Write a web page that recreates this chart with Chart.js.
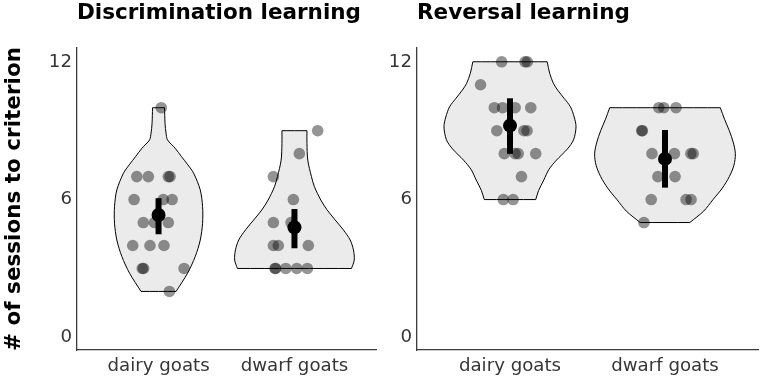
<!DOCTYPE html>
<html>
<head>
<meta charset="utf-8">
<script src="https://cdn.jsdelivr.net/npm/chart.js@4.4.1/dist/chart.umd.min.js"></script>
<style>
  html, body { margin: 0; padding: 0; background: #fff; }
  #wrap { position: relative; width: 765px; height: 379px; overflow: hidden; }
  canvas { position: absolute; top: 0; }
  #left { left: 0; }
  #right { left: 385px; }
</style>
</head>
<body>
<div id="wrap">
  <canvas id="left" width="385" height="379"></canvas>
  <canvas id="right" width="380" height="379"></canvas>
</div>
<script>
const categories = ['dairy goats', 'dwarf goats'];
const yTicks = [0, 6, 12];
const panelTitles = ['Discrimination learning', 'Reversal learning'];
const yTitle = '# of sessions to criterion';

// discrimination learning - sessions per goat, with the horizontal jitter
const discDairySessions = [10, 7, 7, 7, 7, 6, 6, 6, 5, 5, 5, 4, 4, 4, 3, 3, 3, 2];
const discDairyJitter = [0.02, -0.16, -0.075, 0.072, 0.085, -0.18, 0.035, 0.1, -0.112, -0.03, 0.072, -0.19, -0.063, 0.04, -0.12, -0.11, 0.188, 0.08];
const discDwarfSessions = [9, 8, 7, 6, 5, 5, 4, 4, 4, 3, 3, 3, 3, 3];
const discDwarfJitter = [0.171, 0.036, -0.155, -0.008, -0.155, -0.025, -0.155, -0.119, 0.102, -0.143, -0.138, -0.064, 0.017, 0.095];

// reversal learning
const revDairySessions = [12, 12, 12, 11, 10, 10, 10, 10, 9, 9, 9, 8, 8, 8, 8, 7, 6, 6];
const revDairyJitter = [-0.054, 0.097, 0.112, -0.19, -0.101, -0.048, 0.033, 0.134, -0.085, 0.09, 0.11, -0.037, 0.033, 0.053, 0.166, 0.074, -0.043, 0.02];
const revDwarfSessions = [10, 10, 10, 9, 9, 8, 8, 8, 8, 7, 7, 6, 6, 6, 5];
const revDwarfJitter = [-0.04, -0.008, 0.071, -0.15, -0.146, -0.084, 0.061, 0.167, 0.182, -0.046, 0.065, -0.089, 0.136, 0.168, -0.136];

// group means and error bars [dairy, dwarf]
const discMean = [5.33, 4.79];
const discLow = [4.49, 3.88];
const discHigh = [6.06, 5.59];
const revMean = [9.22, 7.77];
const revLow = [7.99, 6.52];
const revHigh = [10.41, 9.03];

// violin outlines: levels (top to bottom) and half widths in group units
const discDairyLevels = [10, 9.3, 8.9, 8.6, 8.23, 7.87, 7.51, 7.15, 6.42, 5.69, 4.97, 4.24, 3.52, 2.79, 2];
const discDairyHalf = [0.044, 0.048, 0.055, 0.066, 0.123, 0.169, 0.216, 0.258, 0.307, 0.324, 0.324, 0.307, 0.27, 0.213, 0.129];
const discDwarfLevels = [9, 8.45, 7.72, 7.0, 6.56, 5.98, 5.55, 5.11, 4.68, 4.24, 3.81, 3.37, 3];
const discDwarfHalf = [0.092, 0.092, 0.098, 0.125, 0.147, 0.194, 0.24, 0.3, 0.36, 0.41, 0.434, 0.44, 0.42];
const revDairyLevels = [12, 11.5, 11.06, 10.77, 10.4, 10.04, 9.6, 9.17, 8.6, 8.2, 7.72, 7.3, 6.85, 6.4, 6];
const revDairyHalf = [0.24, 0.256, 0.28, 0.307, 0.35, 0.39, 0.414, 0.426, 0.41, 0.37, 0.3, 0.25, 0.218, 0.185, 0.166];
const revDwarfLevels = [10, 9.5, 9.0, 8.5, 8.0, 7.5, 7.0, 6.5, 6.0, 5.5, 5.0];
const revDwarfHalf = [0.357, 0.384, 0.415, 0.44, 0.454, 0.445, 0.415, 0.37, 0.31, 0.25, 0.16];

Chart.defaults.font.family = 'DejaVu Sans';
Chart.defaults.animation = false;

const axisColor = '#3c3c3c';
const textColor = '#363636';

function violinOutline(pos, levels, half) {
  const left = levels.map((v, i) => ({x: pos - half[i], y: v}));
  const right = levels.map((v, i) => ({x: pos + half[i], y: v})).reverse();
  const n = left.length;
  // corners doubled so the flat ends stay flat when the curve is smoothed
  return [left[0], ...left, left[n - 1], right[0], ...right, right[n - 1], left[0], left[0]];
}

function violinDataset(pos, levels, half) {
  return {
    type: 'line',
    data: violinOutline(pos, levels, half),
    borderColor: '#000',
    borderWidth: 1,
    backgroundColor: '#ebebeb',
    fill: 'shape',
    tension: 0.3,
    pointRadius: 0,
    order: 4
  };
}

function pointsDataset(pos, sessions, jitter) {
  return {
    type: 'scatter',
    data: sessions.map((v, i) => ({x: pos + jitter[i], y: v})),
    backgroundColor: 'rgba(0,0,0,0.42)',
    pointRadius: 5.8,
    pointBorderWidth: 0,
    order: 3
  };
}

function errorDataset(pos, lo, hi) {
  return {
    type: 'line',
    data: [{x: pos, y: lo}, {x: pos, y: hi}],
    borderColor: '#000',
    borderWidth: 6,
    borderCapStyle: 'butt',
    pointRadius: 0,
    order: 2
  };
}

function meanDataset(means) {
  return {
    type: 'scatter',
    data: means.map((m, i) => ({x: i + 1, y: m})),
    backgroundColor: '#000',
    pointRadius: 7,
    pointBorderWidth: 0,
    order: 1
  };
}

function makePanel(id, cfg) {
  new Chart(document.getElementById(id), {
    type: 'scatter',
    data: {
      datasets: [
        violinDataset(1, cfg.levels[0], cfg.half[0]),
        violinDataset(2, cfg.levels[1], cfg.half[1]),
        pointsDataset(1, cfg.sessions[0], cfg.jitter[0]),
        pointsDataset(2, cfg.sessions[1], cfg.jitter[1]),
        errorDataset(1, cfg.low[0], cfg.high[0]),
        errorDataset(2, cfg.low[1], cfg.high[1]),
        meanDataset(cfg.mean)
      ]
    },
    options: {
      responsive: false,
      devicePixelRatio: 1,
      layout: {padding: {left: 0, right: cfg.padRight, top: 0, bottom: 0}},
      plugins: {
        legend: {display: false},
        tooltip: {enabled: false},
        title: {
          display: true,
          text: cfg.title,
          align: 'start',
          fullSize: false,
          color: '#000',
          font: {size: 21.5, weight: 'bold', lineHeight: 1},
          padding: {top: 3, bottom: 23.5}
        }
      },
      scales: {
        x: {
          type: 'linear',
          min: 0.4,
          max: 2.6,
          afterBuildTicks: s => { s.ticks = categories.map((c, i) => ({value: i + 1})); },
          afterFit: s => { s.height = 29; },
          ticks: {
            callback: v => categories[v - 1],
            color: textColor,
            font: {size: 18.2},
            padding: 5,
            autoSkip: false,
            maxRotation: 0
          },
          grid: {display: false, drawTicks: false},
          border: {display: true, color: axisColor, width: 1.3}
        },
        y: {
          type: 'linear',
          min: -0.55,
          max: 12.6,
          afterBuildTicks: s => { s.ticks = yTicks.map(v => ({value: v})); },
          afterFit: s => { s.width = cfg.yWidth; },
          ticks: {color: textColor, font: {size: 18.2}, padding: 5},
          grid: {display: false, drawTicks: false},
          border: {display: true, color: axisColor, width: 1.3},
          title: {
            display: cfg.showYTitle,
            text: yTitle,
            color: '#000',
            font: {size: 21.5, weight: 'bold', lineHeight: 1},
            padding: {top: 3.25, bottom: 0}
          }
        }
      }
    }
  });
}

makePanel('left', {
  title: panelTitles[0],
  showYTitle: true,
  yWidth: 77,
  padRight: 9,
  levels: [discDairyLevels, discDwarfLevels],
  half: [discDairyHalf, discDwarfHalf],
  sessions: [discDairySessions, discDwarfSessions],
  jitter: [discDairyJitter, discDwarfJitter],
  mean: discMean, low: discLow, high: discHigh
});

makePanel('right', {
  title: panelTitles[1],
  showYTitle: false,
  yWidth: 32,
  padRight: 4,
  levels: [revDairyLevels, revDwarfLevels],
  half: [revDairyHalf, revDwarfHalf],
  sessions: [revDairySessions, revDwarfSessions],
  jitter: [revDairyJitter, revDwarfJitter],
  mean: revMean, low: revLow, high: revHigh
});
</script>
</body>
</html>
